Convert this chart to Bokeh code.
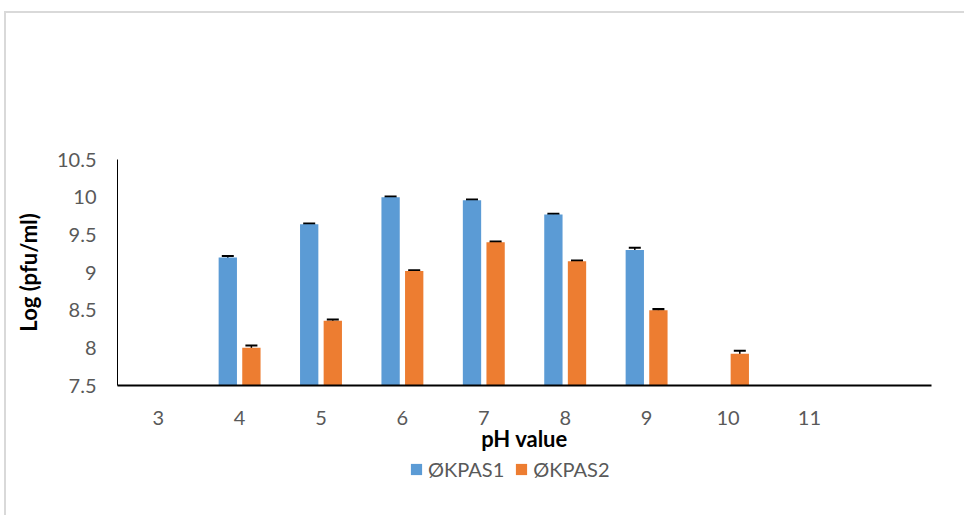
from bokeh.plotting import figure
from bokeh.layouts import column
from bokeh.models import (ColumnDataSource, Range1d, FixedTicker, Legend, LegendItem,
                          Whisker, TeeHead)
from bokeh.transform import dodge
from bokeh.embed import file_html
from bokeh.resources import INLINE

# ---- data ----
ph = [3, 4, 5, 6, 7, 8, 9, 10, 11]
kpas1 = [0, 9.20, 9.64, 10.00, 9.96, 9.77, 9.30, 0, 0]
kpas1_err = [0, 0.02, 0.01, 0.01, 0.01, 0.01, 0.03, 0, 0]
kpas2 = [0, 8.00, 8.36, 9.02, 9.40, 9.15, 8.50, 7.92, 0]
kpas2_err = [0, 0.03, 0.015, 0.01, 0.01, 0.01, 0.015, 0.04, 0]
series_names = ["ØKPAS1", "ØKPAS2"]
y_ticks = [7.5, 8, 8.5, 9, 9.5, 10, 10.5]
y_tick_labels = ["7.5", "8", "8.5", "9", "9.5", "10", "10.5"]
x_label = "pH value"
y_label = "Log (pfu/ml)"

BLUE = "#5B9BD5"
ORANGE = "#ED7D31"
FONT = "Lato"

src = ColumnDataSource(dict(ph=ph, a=kpas1, b=kpas2))

def err_source(vals, errs):
    xs, up, lo = [], [], []
    for x, v, e in zip(ph, vals, errs):
        if v > y_ticks[0]:
            xs.append(x); up.append(v + e); lo.append(v - e)
    return ColumnDataSource(dict(ph=xs, upper=up, lower=lo))

p = figure(width=958, height=442,
           x_range=Range1d(2.5, 12.5), y_range=Range1d(y_ticks[0], y_ticks[-1]),
           output_backend="svg", toolbar_location=None,
           min_border_left=111, min_border_right=33,
           min_border_top=146, min_border_bottom=70)

p.xgrid.grid_line_color = None
p.ygrid.grid_line_color = None
p.outline_line_color = None

OFF = 0.145
W = 0.225
p.vbar(x=dodge("ph", -OFF), top="a", bottom=y_ticks[0], width=W, source=src,
       fill_color=BLUE, line_color=None)
p.vbar(x=dodge("ph", OFF), top="b", bottom=y_ticks[0], width=W, source=src,
       fill_color=ORANGE, line_color=None)

for vals, errs, off in ((kpas1, kpas1_err, -OFF), (kpas2, kpas2_err, OFF)):
    es = err_source(vals, errs)
    w = Whisker(base=dodge("ph", off), upper="upper", lower="lower", source=es,
                line_color="black", line_width=1.5,
                upper_head=TeeHead(size=12, line_color="black", line_width=2),
                lower_head=TeeHead(size=12, line_color="black", line_width=2))
    p.add_layout(w)

# x axis
xa = p.xaxis[0]
xa.ticker = FixedTicker(ticks=ph)
xa.axis_line_color = "black"
xa.axis_line_width = 2
xa.major_tick_line_color = None
xa.minor_tick_line_color = None
xa.major_label_standoff = 19
xa.major_label_text_font = FONT
xa.major_label_text_font_size = "20px"
xa.major_label_text_color = "#595959"
xa.axis_label = x_label
xa.axis_label_text_font = FONT
xa.axis_label_text_font_style = "bold"
xa.axis_label_text_font_size = "22px"
xa.axis_label_text_color = "black"
xa.axis_label_standoff = -3

# y axis
ya = p.yaxis[0]
ya.ticker = FixedTicker(ticks=y_ticks)
ya.major_label_overrides = {t: l for t, l in zip(y_ticks, y_tick_labels)}
ya.axis_line_color = "black"
ya.axis_line_width = 1
ya.major_tick_line_color = None
ya.minor_tick_line_color = None
ya.major_label_standoff = 15
ya.major_label_text_font = FONT
ya.major_label_text_font_size = "20px"
ya.major_label_text_color = "#595959"
ya.axis_label = y_label
ya.axis_label_text_font = FONT
ya.axis_label_text_font_style = "bold"
ya.axis_label_text_font_size = "22px"
ya.axis_label_text_color = "black"
ya.axis_label_standoff = 12

# legend strip below the chart (its bars fall entirely outside its own ranges,
# so only the legend shows)
lf = figure(width=958, height=60, x_range=Range1d(100, 101), y_range=Range1d(100, 101),
            x_axis_type=None, y_axis_type=None, output_backend="svg",
            toolbar_location=None, min_border=0)
lf.xgrid.grid_line_color = None
lf.ygrid.grid_line_color = None
lf.outline_line_color = None
lr1 = lf.vbar(x="ph", top="a", width=0.1, source=src, fill_color=BLUE, line_color=None)
lr2 = lf.vbar(x="ph", top="b", width=0.1, source=src, fill_color=ORANGE, line_color=None)
legend = Legend(items=[LegendItem(label=series_names[0], renderers=[lr1]),
                       LegendItem(label=series_names[1], renderers=[lr2])],
                orientation="horizontal", location=(292, 34),
                border_line_color=None, background_fill_alpha=0,
                label_text_font=FONT, label_text_font_size="20px",
                label_text_color="#595959", glyph_width=14, glyph_height=14,
                label_standoff=5, spacing=10, padding=2, margin=0)
lf.add_layout(legend, "center")

layout = column(p, lf, spacing=0)
layout.styles = {"border-left": "2px solid #d9d9d9", "border-top": "2px solid #d9d9d9",
                 "margin-left": "4px", "margin-top": "11px"}

open("out.html", "w").write(file_html(layout, INLINE))
